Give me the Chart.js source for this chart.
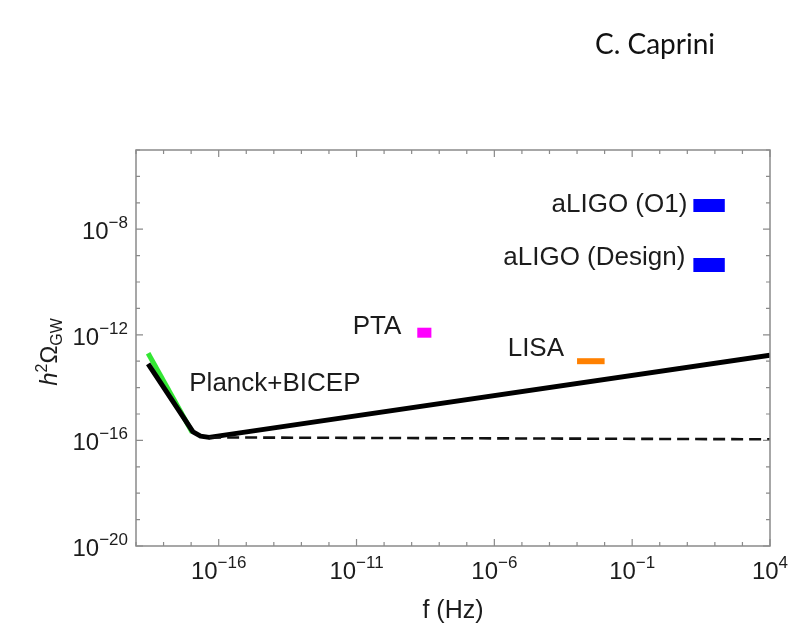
<!DOCTYPE html>
<html>
<head>
<meta charset="utf-8">
<script src="https://cdn.jsdelivr.net/npm/chart.js@4.4.1/dist/chart.umd.min.js"></script>
<style>
  html, body { margin: 0; padding: 0; background: #fff; }
  #wrap { position: relative; width: 805px; height: 626px; }
  #author { position: absolute; left: 595px; top: 26px; font: 28px Lato, "Open Sans", sans-serif; color: #111; }
</style>
</head>
<body>
<div id="wrap">
  <div id="author">C. Caprini</div>
  <canvas id="gw" width="805" height="626"></canvas>
</div>
<script>
// spectrum h^2 Omega_GW(f): full prediction and flat part
var solidF = [2.75e-19, 1.17e-17, 2.2e-17, 4.5e-17, 1e4];
var solidY = [7.9e-14, 2.1e-16, 1.45e-16, 1.3e-16, 1.7e-13];
var dashF = [4.5e-17, 1e4];
var dashY = [1.3e-16, 1.1e-16];
// CMB bound segment
var planckF = [2.75e-19, 1.1e-17];
var planckY = [2.0e-13, 2.0e-16];
// detector sensitivities: frequency span and level
var ptaF = [1.6e-9, 5.2e-9];   var ptaY = 1.2e-12;
var lisaF = [1e-3, 1e-2];      var lisaY = 1e-13;
var ligoF = [16.6, 229];
var ligoO1Y = 7.9e-8;
var ligoDesignY = 4.4e-10;

var xMajor = [-16, -11, -6, -1, 4];
var yMajor = [-8, -12, -16, -20];

function pts(fs, ys) {
  return fs.map(function(f, i) { return { x: f, y: Array.isArray(ys) ? ys[i] : ys }; });
}

var TXT = '#1c1c1c';
var FONT = '"Liberation Sans", Arial, sans-serif';

function drawPow(ctx, exp, x, y, align) {
  // "10" with a raised exponent; y is the baseline of "10"
  var base = '10', sup = (exp < 0 ? '\u2212' : '') + Math.abs(exp);
  ctx.font = '24px ' + FONT;
  var wb = ctx.measureText(base).width;
  ctx.font = '17px ' + FONT;
  var ws = ctx.measureText(sup).width;
  var x0 = align === 'right' ? x - wb - ws : x - (wb + ws) / 2;
  ctx.textAlign = 'left';
  ctx.textBaseline = 'alphabetic';
  ctx.font = '24px ' + FONT;
  ctx.fillText(base, x0, y);
  ctx.font = '17px ' + FONT;
  ctx.fillText(sup, x0 + wb, y - 11);
}

var framePlugin = {
  id: 'frame',
  afterDraw: function(chart) {
    var ctx = chart.ctx, a = chart.chartArea;
    var sx = chart.scales.x, sy = chart.scales.y;
    ctx.save();
    ctx.strokeStyle = '#8a8a8a';
    ctx.lineWidth = 1.5;
    ctx.strokeRect(a.left, a.top, a.right - a.left, a.bottom - a.top);

    ctx.lineWidth = 1.2;
    ctx.beginPath();
    for (var e = -19; e <= 4; e++) {
      var px = sx.getPixelForValue(Math.pow(10, e));
      var len = xMajor.indexOf(e) >= 0 ? 7 : 4;
      ctx.moveTo(px, a.bottom); ctx.lineTo(px, a.bottom - len);
      ctx.moveTo(px, a.top); ctx.lineTo(px, a.top + len);
    }
    for (var k = -20; k <= -5; k++) {
      var py = sy.getPixelForValue(Math.pow(10, k));
      var l2 = yMajor.indexOf(k) >= 0 ? 7 : 4;
      ctx.moveTo(a.left, py); ctx.lineTo(a.left + l2, py);
      ctx.moveTo(a.right, py); ctx.lineTo(a.right - l2, py);
    }
    ctx.stroke();

    ctx.fillStyle = TXT;
    xMajor.forEach(function(e) {
      drawPow(ctx, e, sx.getPixelForValue(Math.pow(10, e)), a.bottom + 33, 'center');
    });
    yMajor.forEach(function(e) {
      drawPow(ctx, e, a.left - 8, sy.getPixelForValue(Math.pow(10, e)) + 10, 'right');
    });

    // axis titles
    ctx.font = '25px ' + FONT;
    ctx.textAlign = 'center';
    ctx.fillText('f (Hz)', (a.left + a.right) / 2, a.bottom + 72);

    ctx.save();
    ctx.translate(57, 352);
    ctx.rotate(-Math.PI / 2);
    var parts = [
      ['h', 'italic 24px ' + FONT, 0],
      ['2', '16px ' + FONT, -10],
      ['\u03A9', '24px ' + FONT, 0],
      ['GW', '16px ' + FONT, 5]
    ];
    var tot = 0;
    parts.forEach(function(p) { ctx.font = p[1]; tot += ctx.measureText(p[0]).width; });
    var cx = -tot / 2;
    ctx.textAlign = 'left';
    parts.forEach(function(p) {
      ctx.font = p[1];
      ctx.fillText(p[0], cx, p[2]);
      cx += ctx.measureText(p[0]).width;
    });
    ctx.restore();

    // curve and detector labels
    ctx.font = '26px ' + FONT;
    ctx.textBaseline = 'middle';
    ctx.textAlign = 'left';
    ctx.fillText('Planck+BICEP', sx.getPixelForValue(planckF[1]) - 3, sy.getPixelForValue(1.4e-14));
    ctx.textAlign = 'right';
    ctx.fillText('PTA', sx.getPixelForValue(ptaF[0]) - 16, sy.getPixelForValue(ptaY) - 6);
    ctx.fillText('LISA', sx.getPixelForValue(lisaF[0]) - 13, sy.getPixelForValue(lisaY) - 12);
    ctx.fillText('aLIGO (O1)', sx.getPixelForValue(ligoF[0]) - 6, sy.getPixelForValue(ligoO1Y) - 1);
    ctx.fillText('aLIGO (Design)', sx.getPixelForValue(ligoF[0]) - 8, sy.getPixelForValue(ligoDesignY) - 7);
    ctx.restore();
  }
};

function seg(data, color, width, dash) {
  return {
    data: data, showLine: true, borderColor: color, backgroundColor: color,
    borderWidth: width, borderDash: dash || [], pointRadius: 0,
    borderCapStyle: 'butt', borderJoinStyle: 'round', tension: 0
  };
}

new Chart(document.getElementById('gw'), {
  type: 'scatter',
  data: {
    datasets: [
      seg(pts(dashF, dashY), '#111', 2.6, [12, 6]),
      seg(pts(solidF, solidY), '#000', 5),
      seg(pts(planckF, planckY), '#33e633', 5),
      seg(pts(ptaF, ptaY), '#ff00ff', 10),
      seg(pts(lisaF, lisaY), '#ff8000', 6),
      seg(pts(ligoF, ligoO1Y), '#0000ff', 13),
      seg(pts(ligoF, ligoDesignY), '#0000ff', 14)
    ]
  },
  options: {
    responsive: false,
    animation: false,
    layout: { padding: { left: 136, right: 35, top: 150, bottom: 80 } },
    plugins: { legend: { display: false }, tooltip: { enabled: false } },
    scales: {
      x: { type: 'logarithmic', min: 1e-19, max: 1e4, display: false },
      y: { type: 'logarithmic', min: 1e-20, max: 1e-5, display: false }
    }
  },
  plugins: [framePlugin]
});
</script>
</body>
</html>
